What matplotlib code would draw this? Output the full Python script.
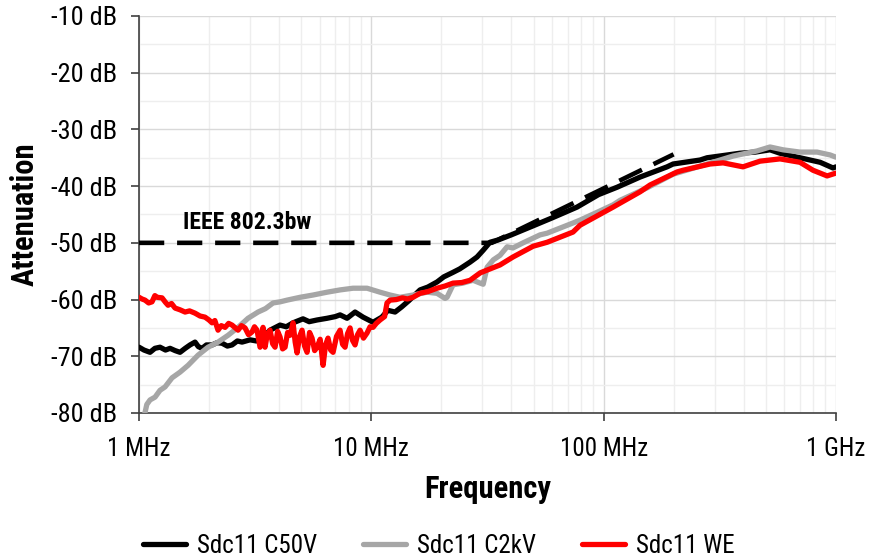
import matplotlib
matplotlib.use("Agg")
import matplotlib.pyplot as plt
from matplotlib.ticker import FixedLocator, NullFormatter, LogLocator
from matplotlib import font_manager

# ---------------- data (frequency in MHz, attenuation in dB) ----------------
c50v_f = [1.0, 1.05, 1.115, 1.17, 1.231, 1.30, 1.36, 1.43, 1.501, 1.58, 1.658, 1.742,
          1.80, 1.867, 1.95, 2.062, 2.17, 2.277, 2.40, 2.514, 2.65, 2.776, 3.005, 3.2,
          3.384, 3.664, 4.046, 4.3, 4.602, 5.08, 5.4, 5.84, 6.449, 7.0, 7.333, 7.86,
          8.508, 9.21, 10.17, 11.1, 11.78, 12.65, 13.5, 14.5, 16.2, 17.5, 19.18, 20.5,
          22.47, 24.0, 26.6, 28.5, 30.3, 32.4, 35.1, 40.0, 49.7, 60.0, 76.8, 95.0,
          114.2, 143.5, 187.5, 199, 260, 278.7, 386.5, 450, 520, 574, 700, 855, 971, 1000]
c50v_db = [-68.4, -68.9, -69.3, -68.6, -68.4, -68.9, -68.6, -69.0, -69.3, -68.6, -68.0, -67.5,
           -68.3, -68.6, -68.0, -68.0, -67.6, -67.7, -68.2, -68.0, -67.3, -67.5, -67.1, -67.3,
           -66.8, -65.4, -64.5, -64.8, -64.1, -63.4, -63.9, -63.6, -63.3, -63.0, -62.7, -63.3,
           -62.2, -63.1, -64.0, -63.1, -61.9, -62.2, -61.3, -60.2, -58.3, -57.8, -56.9, -56.0,
           -55.2, -54.6, -53.4, -52.5, -51.3, -49.9, -49.5, -48.6, -47.0, -45.6, -43.7, -41.5,
           -40.2, -38.4, -36.6, -36.1, -35.4, -35.0, -34.2, -34.0, -33.6, -34.2, -35.0, -35.8, -36.8, -36.6]

c2kv_f = [1.01, 1.03, 1.06, 1.08, 1.115, 1.172, 1.231, 1.294, 1.387, 1.501, 1.625, 1.795,
          1.982, 2.188, 2.416, 2.668, 2.946, 3.253, 3.5, 3.775, 4.05, 4.337, 4.934, 5.61,
          6.449, 7.333, 8.34, 9.58, 10.9, 12.04, 13.29, 15.12, 17.37, 19.18, 20.77, 21.18,
          22.47, 24.8, 27.4, 29.4, 30.3, 31.5, 33.5, 35.8, 38.4, 40.7, 45.0, 53.2, 57.1,
          73.8, 79.1, 95.0, 109.8, 117.7, 153.8, 199, 278.7, 360.6, 457, 520, 592, 700,
          829, 943, 1000]
c2kv_db = [-86.0, -82.0, -80.0, -78.5, -77.7, -77.2, -76.0, -75.4, -73.8, -72.8, -71.6, -69.8,
           -68.4, -67.5, -66.3, -64.9, -63.3, -62.2, -61.6, -60.6, -60.4, -60.1, -59.6, -59.2,
           -58.7, -58.3, -58.0, -58.0, -58.7, -59.2, -59.6, -59.2, -58.7, -58.9, -59.8, -59.6,
           -57.4, -57.1, -56.6, -57.1, -57.3, -54.3, -53.0, -52.2, -50.7, -50.9, -50.0, -48.6, -48.3,
           -46.5, -46.0, -44.5, -43.3, -42.5, -40.3, -37.9, -36.1, -34.7, -33.8, -33.1, -33.6, -34.0,
           -34.0, -34.5, -34.9]

we_f = [1.0, 1.03, 1.061, 1.10, 1.137, 1.17, 1.195, 1.256, 1.30, 1.333, 1.38, 1.429, 1.50,
        1.578, 1.65, 1.742, 1.83, 1.923, 2.0, 2.062, 2.12, 2.188, 2.26, 2.346, 2.43, 2.514,
        2.668, 2.76, 2.86, 2.96, 3.065, 3.14, 3.221, 3.318, 3.418, 3.486, 3.57, 3.664, 3.76,
        3.85, 3.95, 4.046, 4.15, 4.252, 4.36, 4.467, 4.602, 4.70, 4.789, 4.91, 5.032, 5.16,
        5.287, 5.42, 5.556, 5.70, 5.84, 6.02, 6.198, 6.35, 6.51, 6.68, 6.842, 7.08, 7.333,
        7.52, 7.706, 7.90, 8.097, 8.30, 8.508, 8.72, 8.94, 9.25, 9.58, 9.87, 10.17, 10.5,
        10.9, 11.4, 11.68, 12.04, 12.8, 13.6, 14.3, 15.12, 16.2, 17.5, 19.18, 20.8, 22.47,
        24.5, 26.6, 29.4, 31.5, 35.8, 40.7, 49.7, 57.1, 73.8, 79.1, 109.8, 114.2, 143.5,
        158.4, 207, 219.7, 287, 326.6, 398, 471, 574, 700, 796, 916, 1000]
we_db = [-59.6, -59.9, -60.1, -60.6, -60.4, -59.3, -59.6, -59.7, -60.5, -61.0, -60.7, -61.5, -61.8,
         -62.2, -62.0, -62.4, -62.9, -63.1, -63.6, -64.1, -63.7, -65.4, -64.6, -64.9, -64.2, -64.5,
         -65.4, -64.6, -65.0, -66.2, -65.7, -64.8, -65.4, -68.4, -64.9, -68.4, -66.0, -65.4, -67.8,
         -68.4, -65.6, -66.6, -68.7, -68.4, -65.8, -66.3, -64.1, -67.5, -69.4, -66.5, -65.4, -68.2,
         -69.3, -65.8, -66.8, -69.0, -68.4, -67.0, -71.6, -68.0, -66.8, -68.9, -69.3, -66.5, -65.4,
         -67.9, -68.4, -66.0, -65.0, -67.2, -68.0, -66.2, -65.4, -66.8, -65.9, -64.8, -64.9, -64.2,
         -63.6, -63.0, -60.6, -60.1, -60.0, -59.7, -59.9, -59.6, -58.9, -58.6, -58.0, -57.6, -57.1,
         -57.0, -56.6, -55.3, -54.8, -53.9, -52.5, -50.6, -49.9, -48.1, -46.9, -43.7, -43.3, -41.0,
         -39.8, -37.5, -37.2, -36.1, -35.9, -36.6, -35.6, -35.2, -35.8, -37.2, -38.2, -37.7]

limit_f = [1.0, 33.0, 200.0]
limit_db = [-50.0, -50.0, -34.4]

series_names = ["Sdc11 C50V", "Sdc11 C2kV", "Sdc11 WE"]
limit_label = "IEEE 802.3bw"
x_ticks = [1, 10, 100, 1000]
x_ticklabels = ["1 MHz", "10 MHz", "100 MHz", "1 GHz"]
y_ticks = [-80, -70, -60, -50, -40, -30, -20, -10]
y_ticklabels = ["-80 dB", "-70 dB", "-60 dB", "-50 dB", "-40 dB", "-30 dB", "-20 dB", "-10 dB"]

# ---------------- style ----------------
names = {f.name for f in font_manager.fontManager.ttflist}
fam = "Roboto"
for cand in ["Roboto Condensed", "Liberation Sans Narrow", "Open Sans Condensed", "DejaVu Sans Condensed"]:
    if cand in names:
        fam = cand
        break
plt.rcParams["font.family"] = [fam, "DejaVu Sans"]
condensed = fam != "Roboto"
xtick_fs = 18 if condensed else 17
ytick_fs = 19 if condensed else 17
leg_fs = 18 if condensed else 15.5

fig = plt.figure(figsize=(8.69, 5.6), dpi=100)
ax = fig.add_axes([0.160, 0.2625, 0.802, 0.709])

ax.plot(c50v_f, c50v_db, color="#000000", lw=3.8, solid_capstyle="round", solid_joinstyle="round", zorder=3)
ax.plot(c2kv_f, c2kv_db, color="#a6a6a6", lw=3.8, solid_capstyle="round", solid_joinstyle="round", zorder=4)
ax.plot(we_f, we_db, color="#ff0000", lw=3.8, solid_capstyle="round", solid_joinstyle="round", zorder=5)
ax.plot(limit_f, limit_db, color="#000000", lw=3.3, dashes=(5.5, 2.8), zorder=6)

ax.set_xscale("log")
ax.set_xlim(1, 1000)
ax.set_ylim(-80, -10)

ax.xaxis.set_major_locator(FixedLocator(x_ticks))
ax.set_xticklabels(x_ticklabels)
ax.xaxis.set_minor_locator(LogLocator(base=10, subs=range(2, 10)))
ax.xaxis.set_minor_formatter(NullFormatter())
ax.set_yticks(y_ticks)
ax.set_yticklabels(y_ticklabels)
ax.set_yticks([-75, -65, -55, -45, -35, -25, -15], minor=True)

ax.grid(which="major", color="#d9d9d9", lw=1.0, zorder=0)
ax.grid(which="minor", color="#eeeeee", lw=1.0, zorder=0)
ax.set_axisbelow(True)

for s in ["top", "right"]:
    ax.spines[s].set_visible(False)
for s in ["left", "bottom"]:
    ax.spines[s].set_color("#404040")
    ax.spines[s].set_linewidth(1.2)

ax.tick_params(which="major", axis="both", direction="out", length=6, width=1.2,
               color="#404040", labelcolor="#000000")
ax.tick_params(axis="x", labelsize=xtick_fs, pad=11)
ax.tick_params(axis="y", labelsize=ytick_fs, pad=10)
ax.tick_params(which="minor", axis="both", length=0)

ax.set_xlabel("Frequency", fontsize=22, fontweight="bold", labelpad=10)
ax.set_ylabel("Attenuation", fontsize=22, fontweight="bold", labelpad=8)

ax.text(1.55, -46.4, limit_label, fontsize=17, fontweight="bold", va="center", ha="left")

handles = [plt.Line2D([], [], color=c, lw=3.8, solid_capstyle="round")
           for c in ["#000000", "#a6a6a6", "#ff0000"]]
fig.legend(handles, series_names, loc="center", bbox_to_anchor=(0.505, 0.025), ncol=3,
           frameon=False, fontsize=leg_fs, handlelength=1.7, columnspacing=1.85, handletextpad=0.45)

fig.savefig("out.png", dpi=100)
